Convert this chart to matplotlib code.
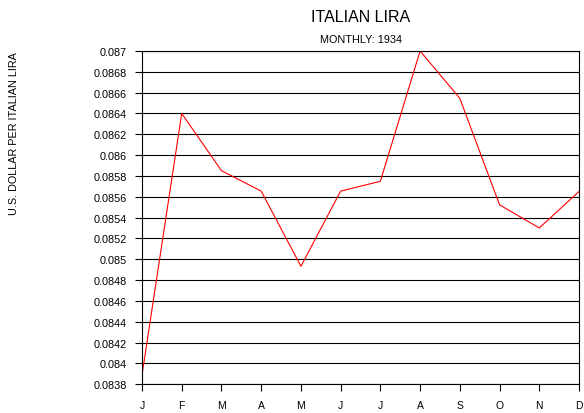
import matplotlib
matplotlib.use("Agg")
import matplotlib.pyplot as plt

plt.rcParams['font.family'] = ['Liberation Sans', 'DejaVu Sans']

months = ["J", "F", "M", "A", "M", "J", "J", "A", "S", "O", "N", "D"]
rate = [0.083889, 0.0864, 0.085851, 0.085655, 0.084933, 0.085655,
        0.085749, 0.0870, 0.086546, 0.085523, 0.085301, 0.085651]
yticks = [0.0838 + 0.0002 * i for i in range(17)]
ylabels = ["%g" % round(v, 4) for v in yticks]

fig = plt.figure(figsize=(5.84, 4.14), dpi=100)
ax = fig.add_axes([142 / 584, 1 - 385.3 / 414, (579 - 142) / 584, (385.3 - 52) / 414])

x = list(range(len(months)))
ax.plot(x, rate, color="red", lw=0.8)

ax.set_xlim(0, 11)
ax.set_ylim(0.0838, 0.087)
ax.set_yticks(yticks)
ax.set_yticklabels(ylabels)
ax.set_xticks(x)
ax.set_xticklabels(months)
ax.tick_params(axis="both", length=5, width=0.8, color="black")
ax.tick_params(axis="y", pad=6, labelsize=7.8)
ax.tick_params(axis="x", pad=6, labelsize=7.5)
ax.yaxis.grid(True, color="black", lw=0.8)
for s in ax.spines.values():
    s.set_linewidth(0.8)

cx = 0.5 * (142 + 579) / 584
fig.text(cx, 1 - 18 / 414, "ITALIAN LIRA", ha="center", va="center", fontsize=11.5)
fig.text(cx, 1 - 40 / 414, "MONTHLY: 1934", ha="center", va="center", fontsize=7.8)
fig.text(14 / 584, 1 - 52 / 414, "U.S. DOLLAR PER ITALIAN LIRA", rotation=90,
         ha="center", va="top", fontsize=7.8)

fig.savefig("out.png", dpi=100)
